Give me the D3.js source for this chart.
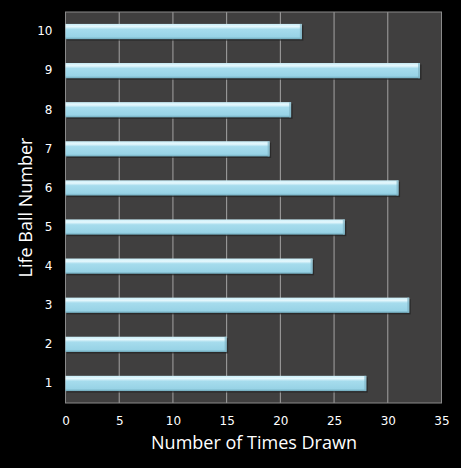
<!DOCTYPE html>
<html><head><meta charset="utf-8">
<script src="https://cdn.jsdelivr.net/npm/d3@7"></script>
<style>
html,body{margin:0;padding:0;background:#000;}
svg{display:block;}
text{font-family:"Open Sans","DejaVu Sans",sans-serif;fill:#fff;}
</style></head>
<body>
<svg id="c" width="461" height="468"></svg>
<script>
const categories = ["1","2","3","4","5","6","7","8","9","10"];
const values = [28,15,32,23,26,31,19,21,33,22];
const xTicks = [0,5,10,15,20,25,30,35];
const xTitle = "Number of Times Drawn";
const yTitle = "Life Ball Number";

const svg = d3.select("#c");
const m = {l:65.5, r:441.5, t:12, b:403};
const x = d3.scaleLinear().domain([0,35]).range([m.l, m.r]);
const y = d3.scaleBand().domain(categories.slice().reverse()).range([m.t, m.b]).paddingInner(0.61).paddingOuter(0.305);

const defs = svg.append("defs");
const g = defs.append("linearGradient").attr("id","bar").attr("x1",0).attr("y1",0).attr("x2",0).attr("y2",1);
g.append("stop").attr("offset","0%").attr("stop-color","#c9eef8");
g.append("stop").attr("offset","18%").attr("stop-color","#e6f8fd");
g.append("stop").attr("offset","35%").attr("stop-color","#a6dced");
g.append("stop").attr("offset","85%").attr("stop-color","#98d3e6");
g.append("stop").attr("offset","100%").attr("stop-color","#6fa9bb");

svg.append("rect").attr("x",m.l).attr("y",m.t).attr("width",m.r-m.l).attr("height",m.b-m.t).attr("fill","#403f3f");

svg.append("g").selectAll("line").data(xTicks.slice(1,-1)).join("line")
  .attr("x1",d=>x(d)).attr("x2",d=>x(d)).attr("y1",m.t).attr("y2",m.b)
  .attr("stroke","#a4a4a4").attr("stroke-width",1);

svg.append("rect").attr("x",m.l).attr("y",m.t).attr("width",m.r-m.l).attr("height",m.b-m.t)
  .attr("fill","none").attr("stroke","#8a8a8a").attr("stroke-width",1);

svg.append("g").selectAll("rect").data(values).join("rect")
  .attr("x",x(0)+1.5).attr("y",(d,i)=>y(categories[i])+1.5)
  .attr("width",d=>x(d)-x(0)).attr("height",y.bandwidth())
  .attr("fill","#222").attr("opacity",0.7);

svg.append("g").selectAll("rect").data(values).join("rect")
  .attr("x",x(0)).attr("y",(d,i)=>y(categories[i]))
  .attr("width",d=>x(d)-x(0)).attr("height",y.bandwidth())
  .attr("fill","url(#bar)");

svg.append("g").selectAll("rect").data(values).join("rect")
  .attr("x",d=>x(d)-2).attr("y",(d,i)=>y(categories[i]))
  .attr("width",2).attr("height",y.bandwidth())
  .attr("fill","#7fb3c4").attr("opacity",0.7);

const xa = d3.axisBottom(x).tickValues(xTicks).tickSize(0).tickPadding(13);
svg.append("g").attr("transform",`translate(0,${m.b})`).call(xa)
  .call(s=>s.select(".domain").remove())
  .selectAll("text").attr("font-size",12).attr("fill","#fff").style("font-family","'DejaVu Sans',sans-serif");

const ya = d3.axisLeft(y).tickSize(0).tickPadding(13);
svg.append("g").attr("transform",`translate(${m.l},0)`).call(ya)
  .call(s=>s.select(".domain").remove())
  .selectAll("text").attr("font-size",12).attr("fill","#fff").style("font-family","'DejaVu Sans',sans-serif");

svg.append("text").attr("x",(m.l+m.r)/2+0.5).attr("y",449).attr("text-anchor","middle")
  .attr("font-size",18).text(xTitle);
svg.append("text").attr("transform",`translate(32,${(m.t+m.b)/2}) rotate(-90)`).attr("text-anchor","middle")
  .attr("font-size",18).text(yTitle);
</script>
</body></html>
